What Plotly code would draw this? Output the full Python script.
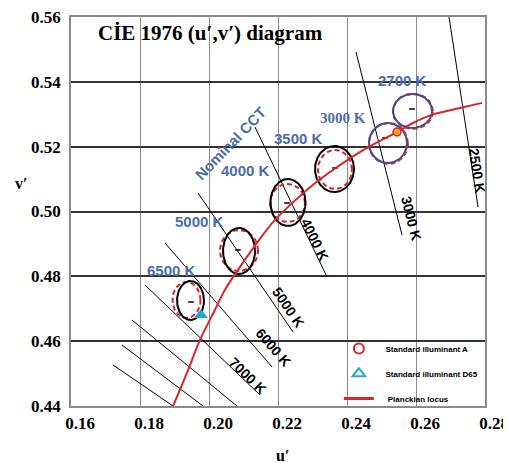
import numpy as np
import plotly.graph_objects as go

# ---------------- data (u', v') ----------------
locus_u = [0.1896, 0.1936, 0.1974, 0.2017, 0.2046, 0.2090, 0.2139, 0.2186, 0.2235,
           0.2301, 0.2359, 0.2423, 0.2467, 0.2545, 0.2591, 0.2646, 0.2728, 0.2791]
locus_v = [0.4400, 0.4502, 0.4604, 0.4696, 0.4758, 0.4829, 0.4903, 0.4968, 0.5020,
           0.5082, 0.5128, 0.5174, 0.5202, 0.5245, 0.5273, 0.5298, 0.5319, 0.5335]

cct_names = ["6500 K", "5000 K", "4000 K", "3500 K", "3000 K", "2700 K"]
# measured ellipses (solid)
ell_u = [0.19464, 0.20870, 0.22290, 0.23638, 0.25188, 0.25899]
ell_v = [0.47255, 0.48782, 0.50278, 0.51311, 0.52113, 0.53100]
ell_a = [0.00391, 0.00464, 0.00507, 0.00565, 0.00551, 0.00565]
ell_b = [0.00602, 0.00710, 0.00725, 0.00710, 0.00617, 0.00524]
# reference ellipses (dashed)
ref_u = [0.19348, 0.20870, 0.22275, 0.23652, 0.25200, 0.25910]
ref_v = [0.47270, 0.48797, 0.50262, 0.51296, 0.52100, 0.53090]
ref_a = [0.00406, 0.00551, 0.00507, 0.00493, 0.00565, 0.00580]
ref_b = [0.00555, 0.00632, 0.00586, 0.00602, 0.00630, 0.00540]
# centre marks
dot_u = [0.19478, 0.20840, 0.22261, 0.23652, 0.25101, 0.25884]
dot_v = [0.47208, 0.48812, 0.50262, 0.51342, 0.52267, 0.53162]

# CCT labels (blue)
lab_u = [0.18899, 0.19710, 0.21072, 0.22580, 0.23884, 0.25623]
lab_v = [0.48165, 0.49707, 0.51250, 0.52237, 0.52884, 0.54026]

# isotemperature lines
iso_names = ["2500 K", "3000 K", "4000 K", "5000 K", "6000 K", "7000 K", "", "", ""]
iso_u0 = [0.26957, 0.24261, 0.21333, 0.19681, 0.18725, 0.18145, 0.17768, 0.17478, 0.17217]
iso_v0 = [0.56000, 0.54920, 0.52607, 0.50571, 0.49028, 0.47733, 0.46653, 0.45882, 0.45265]
iso_u1 = [0.27797, 0.25594, 0.23420, 0.22435, 0.21826, 0.21478, 0.20812, 0.19826, 0.18957]
iso_v1 = [0.50139, 0.49275, 0.47980, 0.46283, 0.45203, 0.44339, 0.44000, 0.44000, 0.44000]
iso_lab_u = [0.27768, 0.25860, 0.23072, 0.22290, 0.21855, 0.21130]
iso_lab_v = [0.51280, 0.49800, 0.49121, 0.47054, 0.45820, 0.44926]
iso_lab_ang = [81, 76, 64, 56, 49, 44]

illum_a = (0.25449, 0.52452)
illum_d65 = (0.19768, 0.46807)

x_ticks = [0.16, 0.18, 0.20, 0.22, 0.24, 0.26, 0.28]
y_ticks = [0.44, 0.46, 0.48, 0.50, 0.52, 0.54, 0.56]

BLUE = "#4b6eab"
NAVY = "#4a4a8c"
RED = "#d8262c"
SERIF = "Liberation Serif"
SANS = "Liberation Sans"

fig = go.Figure()

t = np.linspace(0, 2 * np.pi, 200)

# isotherms
for i in range(len(iso_u0)):
    fig.add_trace(go.Scatter(x=[iso_u0[i], iso_u1[i]], y=[iso_v0[i], iso_v1[i]], mode="lines",
                             line=dict(color="black", width=1), showlegend=False, hoverinfo="skip"))

# dashed reference ellipses
for i in range(len(ref_u)):
    fig.add_trace(go.Scatter(x=ref_u[i] + ref_a[i] * np.cos(t), y=ref_v[i] + ref_b[i] * np.sin(t),
                             mode="lines", line=dict(color=RED, width=2, dash="5px,3px"),
                             showlegend=False, hoverinfo="skip"))
# solid ellipses
for i in range(len(ell_u)):
    col = "black" if i < 4 else NAVY
    fig.add_trace(go.Scatter(x=ell_u[i] + ell_a[i] * np.cos(t), y=ell_v[i] + ell_b[i] * np.sin(t),
                             mode="lines", line=dict(color=col, width=2),
                             showlegend=False, hoverinfo="skip"))
fig.add_trace(go.Scatter(x=dot_u, y=dot_v, mode="markers",
                         marker=dict(symbol="line-ew", size=4, line=dict(color="black", width=1.5)),
                         showlegend=False, hoverinfo="skip"))

# Planckian locus
fig.add_trace(go.Scatter(x=locus_u, y=locus_v, mode="lines", line=dict(color=RED, width=2, shape="spline"),
                         showlegend=False, hoverinfo="skip"))

# illuminants
fig.add_trace(go.Scatter(x=[illum_d65[0]], y=[illum_d65[1]], mode="markers",
                         marker=dict(symbol="triangle-up", size=12, color="#1ea2d8"),
                         showlegend=False, hoverinfo="skip"))
fig.add_trace(go.Scatter(x=[illum_a[0]], y=[illum_a[1]], mode="markers",
                         marker=dict(symbol="circle", size=8, color="#f5a020", line=dict(color=RED, width=1.5)),
                         showlegend=False, hoverinfo="skip"))

# legend entries
fig.add_trace(go.Scatter(x=[None], y=[None], mode="markers", legendgroup="a",
                         marker=dict(symbol="circle-open", size=10, color=RED, line=dict(width=2)),
                         name="<b>\u00a0\u00a0\u00a0Standard illuminant A</b>"))
fig.add_trace(go.Scatter(x=[None], y=[None], mode="markers", legendgroup="b",
                         marker=dict(symbol="triangle-up-open", size=11, color="#2aa7d8", line=dict(width=2)),
                         name="<b>\u00a0\u00a0\u00a0Standard illuminant D65</b>"))
fig.add_trace(go.Scatter(x=[None], y=[None], mode="lines", legendgroup="c",
                         line=dict(color=RED, width=3),
                         name="<b>\u00a0\u00a0\u00a0\u00a0Planckian locus</b>"))

ann = []
for i, name in enumerate(cct_names):
    ann.append(dict(x=lab_u[i], y=lab_v[i], text="<b>%s</b>" % name, showarrow=False,
                    font=dict(family=SERIF if name == "3000 K" else SANS, size=15, color=BLUE)))
ann.append(dict(x=0.20609, y=0.52113, text="<b>Nominal CCT</b>", showarrow=False, textangle=-46,
                font=dict(family=SANS, size=15, color=BLUE)))
for i in range(len(iso_lab_u)):
    ann.append(dict(x=iso_lab_u[i], y=iso_lab_v[i], text="<b>%s</b>" % iso_names[i], showarrow=False,
                    textangle=iso_lab_ang[i], font=dict(family=SANS, size=14, color="black")))
ann.append(dict(xref="paper", yref="paper", x=0.0608, y=0.96, xanchor="left", yanchor="middle",
                text="<b>CİE 1976 (u′,v′) diagram</b>", showarrow=False,
                font=dict(family=SERIF, size=21, color="black")))
ann.append(dict(xref="paper", yref="paper", x=-0.139, y=0.573, text="<b>v′</b>", showarrow=False,
                font=dict(family=SERIF, size=16, color="black")))
ann.append(dict(xref="paper", yref="paper", x=0.512, y=-0.128, yanchor="middle", text="<b>u′</b>", showarrow=False,
                font=dict(family=SERIF, size=16, color="black")))

fig.update_layout(
    width=503, height=455,
    margin=dict(l=63, r=26, t=9, b=57),
    paper_bgcolor="white", plot_bgcolor="white",
    annotations=ann,
    showlegend=True,
    legend=dict(x=0.647, y=0.185, xanchor="left", yanchor="top", bgcolor="rgba(0,0,0,0)",
                font=dict(family=SANS, size=8, color="black"),
                tracegroupgap=6, traceorder="grouped"),
)
fig.update_xaxes(range=[0.16, 0.28], tickvals=x_ticks, ticktext=["<b>%.2f</b>" % v for v in x_ticks],
                 showgrid=True, gridcolor="#8a8a8a", gridwidth=1, zeroline=False,
                 showline=True, linecolor="#8a8a8a", linewidth=1.5, mirror=True, automargin=False,
                 ticks="", ticklabelshift=9, ticklabelstandoff=1, ticklabeloverflow="allow",
                 tickfont=dict(family=SERIF, size=17, color="black"))
fig.update_yaxes(range=[0.44, 0.56], tickvals=y_ticks, ticktext=["<b>%.2f</b>" % v for v in y_ticks],
                 showgrid=True, gridcolor="#333333", gridwidth=2, zeroline=False,
                 showline=True, linecolor="#8a8a8a", linewidth=1.5, mirror=True, automargin=False,
                 ticks="", ticklabelstandoff=5, ticklabeloverflow="allow",
                 tickfont=dict(family=SERIF, size=17, color="black"))

fig.write_html("out.html")
